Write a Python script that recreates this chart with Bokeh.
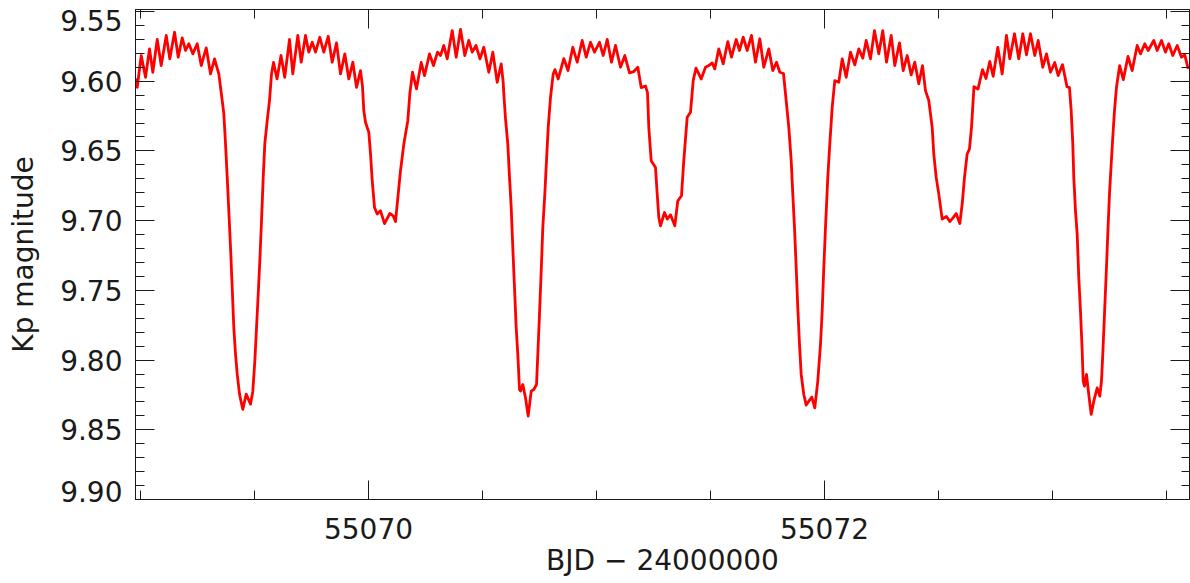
from bokeh.plotting import figure
from bokeh.models import Range1d, FixedTicker, LinearAxis, PrintfTickFormatter
from bokeh.embed import file_html
from bokeh.resources import INLINE

# Light curve (BJD - 2400000, Kp magnitude)
bjd = [
55068.9781, 55068.9856, 55069.0031, 55069.0220, 55069.0395, 55069.0540, 55069.0733, 55069.0908, 55069.1128, 55069.1285,
55069.1492, 55069.1654, 55069.1829, 55069.1974, 55069.2119, 55069.2294, 55069.2487, 55069.2663, 55069.2882, 55069.3071,
55069.3246, 55069.3435, 55069.3584, 55069.3654, 55069.3728, 55069.3803, 55069.3873, 55069.3948, 55069.4022, 55069.4092,
55069.4167, 55069.4242, 55069.4342, 55069.4487, 55069.4636, 55069.4825, 55069.4926, 55069.5014, 55069.5088, 55069.5163,
55069.5233, 55069.5307, 55069.5382, 55069.5452, 55069.5557, 55069.5658, 55069.5746, 55069.5834, 55069.5987, 55069.6163,
55069.6325, 55069.6535, 55069.6680, 55069.6899, 55069.7049, 55069.7237, 55069.7382, 55069.7531, 55069.7676, 55069.7864,
55069.8040, 55069.8233, 55069.8408, 55069.8597, 55069.8772, 55069.8961, 55069.9136, 55069.9312, 55069.9474, 55069.9649,
55069.9737, 55069.9794, 55069.9869, 55070.0014, 55070.0088, 55070.0163, 55070.0264, 55070.0382, 55070.0527, 55070.0702,
55070.0935, 55070.1084, 55070.1185, 55070.1259, 55070.1404, 55070.1549, 55070.1724, 55070.1812, 55070.1930, 55070.2106,
55070.2312, 55070.2456, 55070.2676, 55070.2851, 55070.3027, 55070.3158, 55070.3303, 55070.3452, 55070.3671, 55070.3847,
55070.4035, 55070.4224, 55070.4399, 55070.4549, 55070.4715, 55070.4891, 55070.5057, 55070.5277, 55070.5452, 55070.5645,
55070.5821, 55070.5908, 55070.5935, 55070.6009, 55070.6110, 55070.6185, 55070.6259, 55070.6329, 55070.6404, 55070.6478,
55070.6549, 55070.6623, 55070.6667, 55070.6768, 55070.6886, 55070.7005, 55070.7136, 55070.7250, 55070.7369, 55070.7426,
55070.7500, 55070.7575, 55070.7645, 55070.7733, 55070.7807, 55070.7882, 55070.7983, 55070.8101, 55070.8180, 55070.8321,
55070.8566, 55070.8750, 55070.8961, 55070.9154, 55070.9373, 55070.9549, 55070.9737, 55070.9913, 55071.0132, 55071.0294,
55071.0470, 55071.0658, 55071.0834, 55071.1053, 55071.1242, 55071.1448, 55071.1636, 55071.1812, 55071.1961, 55071.2149,
55071.2237, 55071.2294, 55071.2399, 55071.2514, 55071.2588, 55071.2663, 55071.2733, 55071.2807, 55071.2983, 55071.3101,
55071.3246, 55071.3435, 55071.3566, 55071.3728, 55071.3829, 55071.3978, 55071.4123, 55071.4242, 55071.4364, 55071.4592,
55071.4781, 55071.4926, 55071.5075, 55071.5189, 55071.5364, 55071.5557, 55071.5759, 55071.5921, 55071.6128, 55071.6272,
55071.6435, 55071.6610, 55071.6799, 55071.6974, 55071.7163, 55071.7338, 55071.7557, 55071.7733, 55071.7895, 55071.8040,
55071.8202, 55071.8334, 55071.8435, 55071.8540, 55071.8610, 55071.8685, 55071.8759, 55071.8829, 55071.8904, 55071.8978,
55071.9092, 55071.9198, 55071.9312, 55071.9443, 55071.9575, 55071.9706, 55071.9825, 55071.9899, 55071.9970, 55072.0044,
55072.0145, 55072.0233, 55072.0338, 55072.0452, 55072.0628, 55072.0777, 55072.0952, 55072.1141, 55072.1329, 55072.1505,
55072.1680, 55072.1829, 55072.2018, 55072.2193, 55072.2382, 55072.2557, 55072.2720, 55072.2926, 55072.3084, 55072.3290,
55072.3452, 55072.3628, 55072.3803, 55072.3961, 55072.4136, 55072.4299, 55072.4430, 55072.4575, 55072.4724, 55072.4794,
55072.4899, 55072.5014, 55072.5163, 55072.5351, 55072.5496, 55072.5645, 55072.5777, 55072.5935, 55072.6040, 55072.6141,
55072.6259, 55072.6360, 55072.6448, 55072.6557, 55072.6733, 55072.6930, 55072.7084, 55072.7250, 55072.7399, 55072.7601,
55072.7794, 55072.7983, 55072.8128, 55072.8334, 55072.8522, 55072.8698, 55072.8860, 55072.9035, 55072.9224, 55072.9373,
55072.9575, 55072.9737, 55072.9913, 55073.0101, 55073.0250, 55073.0439, 55073.0636, 55073.0746, 55073.0821, 55073.0891,
55073.0935, 55073.1009, 55073.1084, 55073.1154, 55073.1228, 55073.1303, 55073.1347, 55073.1404, 55073.1492, 55073.1592,
55073.1698, 55073.1812, 55073.1961, 55073.2075, 55073.2149, 55073.2206, 55073.2281, 55073.2356, 55073.2426, 55073.2500,
55073.2575, 55073.2645, 55073.2720, 55073.2807, 55073.2948, 55073.3106, 55073.3312, 55073.3496, 55073.3715, 55073.3860,
55073.4049, 55073.4198, 55073.4443, 55073.4592, 55073.4781, 55073.4956, 55073.5101, 55073.5277, 55073.5470, 55073.5658,
55073.5803, 55073.5952,
]

kp = [
9.5981, 9.6044, 9.5816, 9.5972, 9.5768, 9.5936, 9.5701, 9.5888, 9.5672, 9.5840,
9.5649, 9.5828, 9.5689, 9.5780, 9.5732, 9.5804, 9.5732, 9.5888, 9.5761, 9.5948,
9.5840, 9.5948, 9.6139, 9.6233, 9.6448, 9.6690, 9.6930, 9.7193, 9.7481, 9.7768,
9.7957, 9.8101, 9.8244, 9.8354, 9.8244, 9.8316, 9.8223, 9.8007, 9.7768, 9.7526,
9.7289, 9.7002, 9.6690, 9.6448, 9.6283, 9.6139, 9.5948, 9.5866, 9.5984, 9.5816,
9.5972, 9.5701, 9.5948, 9.5672, 9.5864, 9.5672, 9.5792, 9.5721, 9.5792, 9.5685,
9.5792, 9.5678, 9.5864, 9.5725, 9.5948, 9.5804, 9.5984, 9.5864, 9.6044, 9.5924,
9.6039, 9.6211, 9.6295, 9.6367, 9.6520, 9.6714, 9.6906, 9.6953, 9.6930, 9.7021,
9.6949, 9.6966, 9.7007, 9.6881, 9.6642, 9.6451, 9.6283, 9.6091, 9.5936, 9.6055,
9.5866, 9.5960, 9.5804, 9.5888, 9.5792, 9.5816, 9.5744, 9.5840, 9.5637, 9.5828,
9.5629, 9.5816, 9.5708, 9.5792, 9.5744, 9.5840, 9.5757, 9.5936, 9.5792, 9.6008,
9.5876, 9.6008, 9.6091, 9.6269, 9.6451, 9.6690, 9.6906, 9.7193, 9.7481, 9.7768,
9.7959, 9.8211, 9.8223, 9.8175, 9.8271, 9.8402, 9.8223, 9.8211, 9.8175, 9.7959,
9.7672, 9.7361, 9.7050, 9.6810, 9.6570, 9.6331, 9.6116, 9.5948, 9.5917, 9.5984,
9.5838, 9.5924, 9.5757, 9.5864, 9.5708, 9.5828, 9.5721, 9.5792, 9.5721, 9.5816,
9.5701, 9.5864, 9.5744, 9.5900, 9.5816, 9.5940, 9.5931, 9.5900, 9.6046, 9.6035,
9.6082, 9.6331, 9.6570, 9.6599, 9.6619, 9.6810, 9.6978, 9.7037, 9.6942, 9.6989,
9.6958, 9.7037, 9.6858, 9.6822, 9.6570, 9.6259, 9.6223, 9.5996, 9.5906, 9.5984,
9.5900, 9.5888, 9.5869, 9.5912, 9.5768, 9.5876, 9.5716, 9.5828, 9.5701, 9.5780,
9.5685, 9.5780, 9.5672, 9.5864, 9.5696, 9.5900, 9.5768, 9.5924, 9.5864, 9.5936,
9.5945, 9.6163, 9.6331, 9.6570, 9.6810, 9.7050, 9.7337, 9.7624, 9.7887, 9.8103,
9.8247, 9.8323, 9.8295, 9.8266, 9.8343, 9.8151, 9.7887, 9.7648, 9.7337, 9.7050,
9.6690, 9.6451, 9.6188, 9.5996, 9.6008, 9.5840, 9.5972, 9.5792, 9.5883, 9.5768,
9.5836, 9.5708, 9.5840, 9.5637, 9.5804, 9.5637, 9.5864, 9.5672, 9.5888, 9.5725,
9.5924, 9.5816, 9.5955, 9.5864, 9.6019, 9.5888, 9.6068, 9.6139, 9.6331, 9.6522,
9.6690, 9.6810, 9.6989, 9.6971, 9.7007, 9.6978, 9.6949, 9.7021, 9.6881, 9.6690,
9.6522, 9.6486, 9.6331, 9.6039, 9.6057, 9.5917, 9.5981, 9.5859, 9.5965, 9.5757,
9.5948, 9.5672, 9.5840, 9.5660, 9.5840, 9.5660, 9.5811, 9.5660, 9.5816, 9.5708,
9.5900, 9.5804, 9.5936, 9.5866, 9.5960, 9.5881, 9.6039, 9.6046, 9.6211, 9.6451,
9.6690, 9.6930, 9.7097, 9.7409, 9.7648, 9.7935, 9.8151, 9.8187, 9.8103, 9.8247,
9.8390, 9.8295, 9.8199, 9.8259, 9.8151, 9.7959, 9.7672, 9.7384, 9.7097, 9.6810,
9.6594, 9.6403, 9.6211, 9.6044, 9.5888, 9.5989, 9.5823, 9.5924, 9.5744, 9.5804,
9.5732, 9.5780, 9.5708, 9.5780, 9.5708, 9.5792, 9.5732, 9.5816, 9.5744, 9.5828,
9.5811, 9.5912,
]

x_major_ticks = [55070, 55072]
x_minor_ticks = [55069.0, 55069.5, 55070.5, 55071.0, 55071.5, 55072.5, 55073.0, 55073.5]
y_major_ticks = [9.55, 9.60, 9.65, 9.70, 9.75, 9.80, 9.85, 9.90]
y_minor_ticks = [9.56, 9.57, 9.58, 9.59, 9.61, 9.62, 9.63, 9.64, 9.66, 9.67, 9.68, 9.69,
                 9.71, 9.72, 9.73, 9.74, 9.76, 9.77, 9.78, 9.79, 9.81, 9.82, 9.83, 9.84,
                 9.86, 9.87, 9.88, 9.89]
y_tick_labels = ["9.55", "9.60", "9.65", "9.70", "9.75", "9.80", "9.85", "9.90"]
# the two end labels sit slightly inside the frame in the reference (style nudge, in mag)
y_label_nudge = [0.0065, 0, 0, 0, 0, 0, 0, -0.0057]

X_START, X_END = 55068.978, 55073.601
Y_BOTTOM, Y_TOP = 9.90, 9.5486

FONT = "DejaVu Sans"
INK = "#1a1a1a"

p = figure(width=1190, height=583, output_backend="svg", toolbar_location=None,
           x_range=Range1d(X_START, X_END), y_range=Range1d(Y_BOTTOM, Y_TOP),
           min_border_left=135, min_border_right=1, min_border_top=9, min_border_bottom=84,
           x_axis_label="BJD \u2212 24000000")
p.grid.visible = False
p.outline_line_color = INK
p.background_fill_color = "white"
p.border_fill_color = "white"

p.line(bjd, kp, line_color="#ff0000", line_width=2.8, line_join="round")

xt = FixedTicker(ticks=x_major_ticks, minor_ticks=x_minor_ticks)
yt = FixedTicker(ticks=y_major_ticks, minor_ticks=y_minor_ticks)

# bottom axis: ticks + labels + title
xa = p.xaxis[0]
xa.ticker = xt
xa.formatter = PrintfTickFormatter(format="%d")
xa.major_label_standoff = 18
xa.major_label_text_font = FONT
xa.major_label_text_font_size = "28px"
xa.major_label_text_color = INK
xa.axis_label_standoff = 2
xa.axis_label_text_font = FONT
xa.axis_label_text_font_size = "28px"
xa.axis_label_text_font_style = "normal"
xa.axis_label_text_color = INK

# inner left axis: tick marks only
ya = p.yaxis[0]
ya.ticker = yt
ya.major_label_overrides = {v: "" for v in y_major_ticks}
ya.major_label_standoff = 0

for ax in (xa, ya):
    ax.axis_line_color = INK
    ax.major_tick_line_color = INK
    ax.minor_tick_line_color = INK
    ax.major_tick_in = 19
    ax.major_tick_out = 0
    ax.minor_tick_in = 9
    ax.minor_tick_out = 0

# outer left axis: the tick labels and the title, no marks
label_pos = [v + d for v, d in zip(y_major_ticks, y_label_nudge)]
yl = LinearAxis(ticker=FixedTicker(ticks=label_pos, minor_ticks=[]),
                major_label_overrides={pos: t for pos, t in zip(label_pos, y_tick_labels)},
                axis_line_color=None, major_tick_line_color=None, minor_tick_line_color=None,
                major_tick_in=0, major_tick_out=0, minor_tick_in=0, minor_tick_out=0,
                major_label_standoff=13, major_label_text_font=FONT,
                major_label_text_font_size="28px", major_label_text_color=INK,
                axis_label="Kp magnitude", axis_label_standoff=17,
                axis_label_text_font=FONT, axis_label_text_font_size="28px",
                axis_label_text_font_style="normal", axis_label_text_color=INK)
p.add_layout(yl, "left")

# mirrored tick marks on the top and right sides
top = LinearAxis(ticker=xt, major_label_overrides={v: "" for v in x_major_ticks},
                 major_label_text_font_size="1px", major_label_standoff=0,
                 major_tick_in=19, major_tick_out=0, minor_tick_in=9, minor_tick_out=0,
                 axis_line_color=INK, major_tick_line_color=INK, minor_tick_line_color=INK)
right = LinearAxis(ticker=yt, major_label_overrides={v: "" for v in y_major_ticks},
                   major_label_standoff=0,
                   major_tick_in=19, major_tick_out=0, minor_tick_in=8, minor_tick_out=0,
                   axis_line_color=INK, major_tick_line_color=INK, minor_tick_line_color=INK)
p.add_layout(top, "above")
p.add_layout(right, "right")

open("out.html", "w").write(file_html(p, INLINE))
